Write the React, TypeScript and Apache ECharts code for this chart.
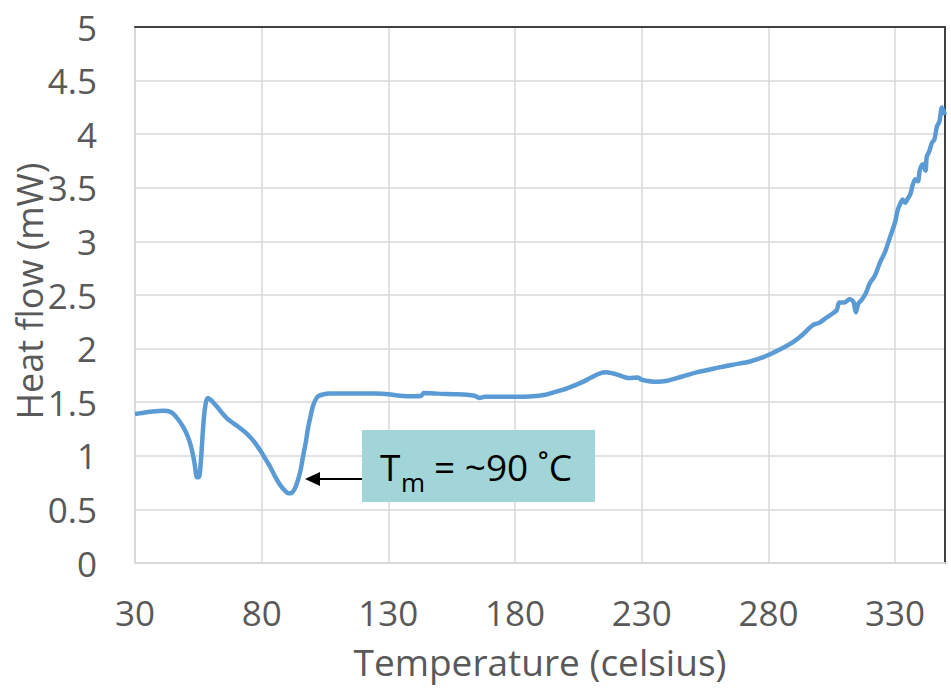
import React, { useEffect, useRef } from "react";
import * as echarts from "echarts";

const temperature = [
  30, 33, 36, 41, 44, 46, 49, 51, 52.5, 53.5, 54.5, 55.2, 56, 56.7, 57.3, 58, 58.8, 60, 62.3, 64,
  66.3, 69, 71.4, 74, 76, 78, 80, 82, 83.3, 85, 87.2, 89, 90.5, 91.5, 93, 94, 95.3, 96.3, 97.5, 98.3,
  99.2, 100.2, 101, 102, 103.8, 107, 115, 125, 130, 134.6, 140, 143, 144, 150, 156, 161, 164, 166, 168, 174,
  180, 187, 192, 195, 200.5, 206.8, 210, 213.5, 216, 220, 225, 228.5, 230, 236, 240, 246, 252, 259.7, 266, 272.7,
  278, 281.8, 286, 289.7, 293, 297.6, 300, 303, 305.5, 307, 308, 310, 312, 313.5, 314.5, 315.5, 317, 318.5, 320, 322,
  324, 326, 328, 330, 331, 332, 333, 334, 335, 336, 337, 338, 339, 339.8, 341, 342, 342.5, 343.5, 344.5, 345.5,
  346.5, 347.5, 348.5, 349.7,
];
const heatFlow = [
  1.39, 1.4, 1.41, 1.42, 1.41, 1.37, 1.27, 1.17, 1.05, 0.93, 0.8, 0.8, 0.95, 1.2, 1.38, 1.5, 1.54, 1.52, 1.46, 1.41,
  1.35, 1.3, 1.26, 1.21, 1.16, 1.1, 1.03, 0.95, 0.9, 0.82, 0.73, 0.68, 0.65, 0.65, 0.69, 0.75, 0.86, 0.99, 1.14, 1.26,
  1.36, 1.46, 1.51, 1.55, 1.57, 1.58, 1.58, 1.58, 1.575, 1.56, 1.555, 1.56, 1.585, 1.58, 1.575, 1.57, 1.56, 1.54, 1.55, 1.55,
  1.55, 1.555, 1.57, 1.59, 1.63, 1.69, 1.73, 1.77, 1.78, 1.76, 1.725, 1.73, 1.71, 1.69, 1.7, 1.74, 1.78, 1.82, 1.85, 1.88,
  1.92, 1.96, 2.01, 2.06, 2.12, 2.22, 2.24, 2.29, 2.33, 2.36, 2.43, 2.43, 2.46, 2.44, 2.34, 2.42, 2.46, 2.52, 2.61, 2.68,
  2.8, 2.9, 3.04, 3.18, 3.29, 3.35, 3.39, 3.36, 3.4, 3.44, 3.53, 3.58, 3.56, 3.67, 3.72, 3.66, 3.79, 3.84, 3.92, 3.95,
  4.07, 4.12, 4.25, 4.18,
];
const xTitle = "Temperature (celsius)";
const yTitle = "Heat flow (mW)";
const annotationMain = "T";
const annotationSub = "m";
const annotationRest = "= ~90 \u02DAC";

const FONT = "'Open Sans', 'Noto Sans', sans-serif";
const GRAY = "#595959";
const GRID = "#d9d9d9";

export default function App() {
  const ref = useRef<HTMLDivElement>(null);
  useEffect(() => {
    if (!ref.current) return;
    const chart = echarts.init(ref.current, null, { renderer: "svg" });
    const data = temperature.map((t, i) => [t, heatFlow[i]]);
    chart.setOption({
      animation: false,
      textStyle: { fontFamily: FONT },
      grid: {
        left: 135,
        top: 27,
        right: 6,
        bottom: 130,
        containLabel: false,
        outerBoundsMode: "none",
      },
      xAxis: [
        {
          type: "value",
          min: 30,
          max: 349.7,
          interval: 50,
          name: xTitle,
          nameLocation: "middle",
          nameGap: 80,
          nameTextStyle: { fontSize: 37, color: GRAY, fontFamily: FONT },
          axisLine: { show: true, lineStyle: { color: GRID, width: 2 } },
          axisTick: { show: false },
          axisLabel: {
            fontSize: 35,
            color: GRAY,
            fontFamily: FONT,
            margin: 32,
            showMaxLabel: false,
            formatter: (v: number) => (Math.abs((v - 30) % 50) < 1e-6 ? String(v) : ""),
          },
          splitLine: { show: true, lineStyle: { color: GRID, width: 1.5 } },
        },
        {
          type: "value",
          position: "top",
          min: 30,
          max: 349.7,
          axisLine: { show: true, onZero: false, lineStyle: { color: "#404040", width: 2 } },
          axisTick: { show: false },
          axisLabel: { show: false },
          splitLine: { show: false },
        },
      ],
      yAxis: [
        {
          type: "value",
          min: 0,
          max: 5,
          interval: 0.5,
          axisLine: { show: true, lineStyle: { color: GRID, width: 2 } },
          axisTick: { show: false },
          axisLabel: { fontSize: 35, color: GRAY, fontFamily: FONT, margin: 38 },
          splitLine: { show: true, lineStyle: { color: GRID, width: 1.5 } },
        },
        {
          type: "value",
          position: "right",
          min: 0,
          max: 5,
          axisLine: { show: true, onZero: false, lineStyle: { color: "#404040", width: 2 } },
          axisTick: { show: false },
          axisLabel: { show: false },
          splitLine: { show: false },
        },
      ],
      series: [
        {
          type: "line",
          data,
          xAxisIndex: 0,
          yAxisIndex: 0,
          showSymbol: false,
          symbol: "none",
          smooth: 0.3,
          lineStyle: { color: "#5b9bd5", width: 4.5 },
        },
      ],
      graphic: [
        {
          type: "text",
          x: 29,
          y: 291,
          rotation: Math.PI / 2,
          z: 5,
          style: {
            text: yTitle,
            fontSize: 36,
            fontFamily: FONT,
            fill: GRAY,
            align: "center",
            verticalAlign: "middle",
          },
        },
        {
          type: "rect",
          shape: { x: 362, y: 430, width: 233, height: 72 },
          style: { fill: "#a1d5d8" },
          z: 10,
        },
        {
          type: "text",
          x: 380,
          y: 466,
          z: 11,
          style: { text: annotationMain, fontSize: 37, fontFamily: FONT, fill: "#000", verticalAlign: "middle", align: "left" },
        },
        {
          type: "text",
          x: 401,
          y: 482,
          z: 11,
          style: { text: annotationSub, fontSize: 26, fontFamily: FONT, fill: "#000", verticalAlign: "middle", align: "left" },
        },
        {
          type: "text",
          x: 434,
          y: 466,
          z: 11,
          style: { text: annotationRest, fontSize: 37, fontFamily: FONT, fill: "#000", verticalAlign: "middle", align: "left" },
        },
        {
          type: "line",
          shape: { x1: 362, y1: 479, x2: 318, y2: 479 },
          style: { stroke: "#000", lineWidth: 2 },
          z: 11,
        },
        {
          type: "polygon",
          shape: { points: [[305, 479], [320, 472], [320, 486]] },
          style: { fill: "#000" },
          z: 11,
        },
      ],
    });
    return () => chart.dispose();
  }, []);
  return <div ref={ref} style={{ width: 951, height: 693, position: "absolute", left: 0, top: 0 }} />;
}
